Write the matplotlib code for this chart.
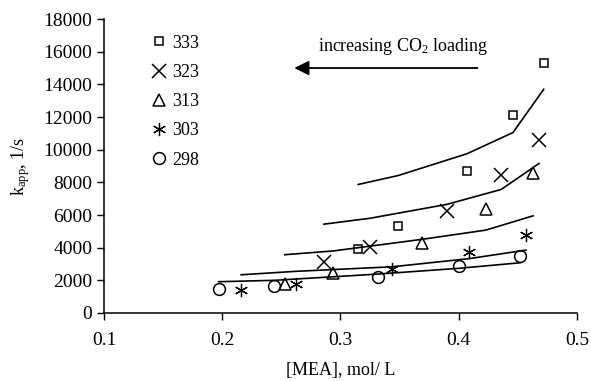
import matplotlib
matplotlib.use("Agg")
import matplotlib.pyplot as plt
import numpy as np

plt.rcParams['font.family'] = ['Liberation Serif', 'DejaVu Serif']
plt.rcParams['mathtext.fontset'] = 'custom'
plt.rcParams['mathtext.rm'] = 'Liberation Serif'
plt.rcParams['mathtext.it'] = 'Liberation Serif:italic'

# Data: temperatures (K)
temps = ["333", "323", "313", "303", "298"]

# experimental points
x333 = [0.315, 0.349, 0.407, 0.446, 0.472]
y333 = [3920, 5320, 8690, 12150, 15330]
x323 = [0.286, 0.325, 0.390, 0.436, 0.468]
y323 = [3140, 4020, 6250, 8480, 10580]
x313 = [0.253, 0.294, 0.369, 0.423, 0.463]
y313 = [1770, 2470, 4300, 6380, 8600]
x303 = [0.216, 0.262, 0.344, 0.409, 0.457]
y303 = [1410, 1780, 2670, 3710, 4770]
x298 = [0.197, 0.244, 0.332, 0.400, 0.452]
y298 = [1450, 1650, 2220, 2890, 3490]

# model lines
m333 = [7870, 8420, 9750, 11050, 13700]
m323 = [5440, 5800, 6650, 7565, 9155]
m313 = [3570, 3800, 4510, 5075, 5950]
m303 = [2340, 2550, 2830, 3330, 3850]
m298 = [1915, 2000, 2385, 2735, 3075]

fig = plt.figure(figsize=(5.91, 3.81), dpi=100)
ax = fig.add_axes([0.176, 0.1785, 0.800, 0.7715])

series = [
    (x333, y333, m333, 's', 5.5, 1.1),
    (x323, y323, m323, 'x', 9.5, 1.1),
    (x313, y313, m313, '^', 8.5, 1.1),
    (x303, y303, m303, (6, 2, 0), 9.5, 0.9),
    (x298, y298, m298, 'o', 8.5, 1.1),
]

handles = []
for (xs, ys, ms, mk, sz, mew), t in zip(series, temps):
    ax.plot(xs, ms, color='black', lw=1.2)
    h, = ax.plot(xs, ys, linestyle='none', marker=mk, markersize=sz,
                 markerfacecolor='none', markeredgecolor='black',
                 markeredgewidth=mew, label=t)
    handles.append(h)

ax.set_xlim(0.1, 0.5)
ax.set_ylim(0, 18000)
ax.set_xticks([0.1, 0.2, 0.3, 0.4, 0.5])
ax.set_xticklabels(["0.1", "0.2", "0.3", "0.4", "0.5"])
ax.set_yticks(np.arange(0, 18001, 2000))
ax.tick_params(axis='both', direction='out', length=5, width=1, labelsize=14,
               colors='black')
ax.tick_params(axis='x', pad=9)
ax.spines['top'].set_visible(False)
ax.spines['right'].set_visible(False)
ax.spines['left'].set_linewidth(1.1)
ax.spines['bottom'].set_linewidth(1.1)

ax.set_xlabel("[MEA], mol/ L", fontsize=13, labelpad=9)
ax.set_ylabel(r"k$_{\mathrm{app}}$, 1/s", fontsize=13, labelpad=8)

leg = ax.legend(handles=handles, loc='upper left', bbox_to_anchor=(0.075, 0.99),
                frameon=False, fontsize=13, handlelength=0.8, handletextpad=0.3,
                labelspacing=0.68, borderpad=0.2)

# arrow and annotation
ax.annotate("", xy=(0.261, 15000), xytext=(0.416, 15000),
            arrowprops=dict(arrowstyle='-|>', color='black', lw=1.3,
                            mutation_scale=22, shrinkA=0, shrinkB=0))
ax.text(0.353, 16300, r"increasing CO$_2$ loading", fontsize=13,
        ha='center', va='center')

fig.savefig("out.png", dpi=100)
